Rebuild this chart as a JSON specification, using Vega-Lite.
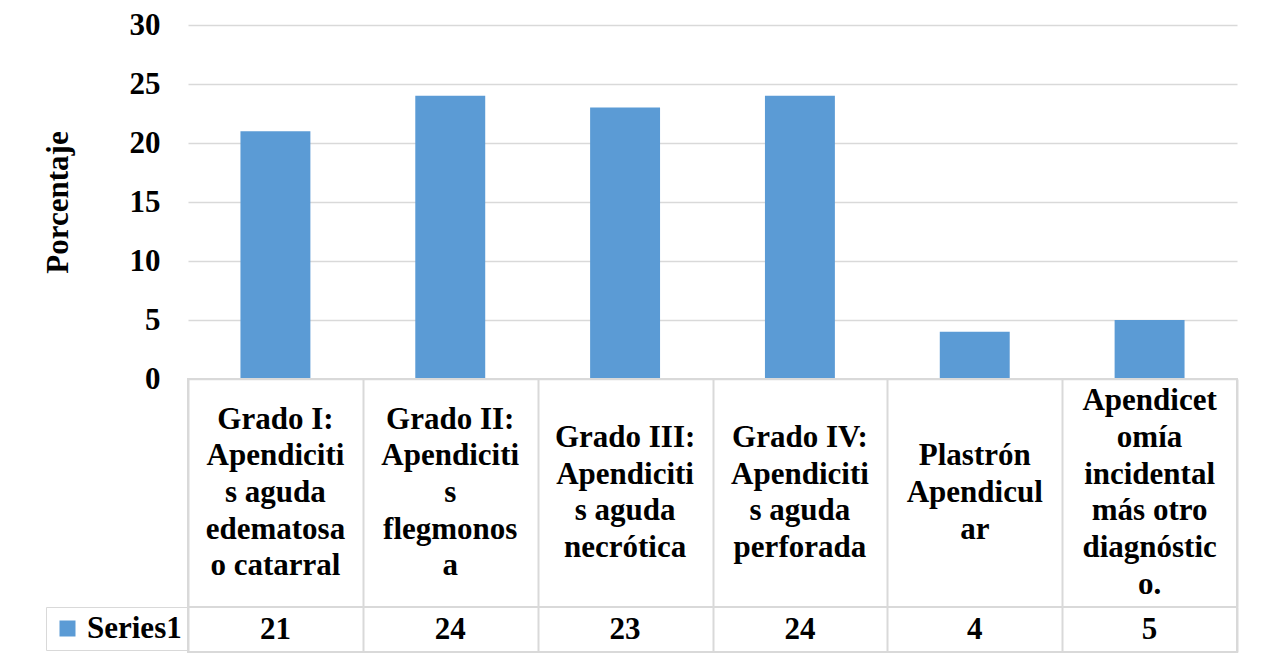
{
  "$schema": "https://vega.github.io/schema/vega-lite/v6.json",
  "padding": {"left": 42, "top": 9, "right": 20, "bottom": 5},
  "background": "white",
  "bounds": "flush",
  "datasets": {
    "tabla": [
      {"categoria": "Grado I:\nApendiciti\ns aguda\nedematosa\no catarral", "porcentaje": 21, "serie": "Series1"},
      {"categoria": "Grado II:\nApendiciti\ns\nflegmonos\na", "porcentaje": 24, "serie": "Series1"},
      {"categoria": "Grado III:\nApendiciti\ns aguda\nnecrótica", "porcentaje": 23, "serie": "Series1"},
      {"categoria": "Grado IV:\nApendiciti\ns aguda\nperforada", "porcentaje": 24, "serie": "Series1"},
      {"categoria": "Plastrón\nApendicul\nar", "porcentaje": 4, "serie": "Series1"},
      {"categoria": "Apendicet\nomía\nincidental\nmás otro\ndiagnóstic\no.", "porcentaje": 5, "serie": "Series1"}
    ]
  },
  "data": {"name": "tabla"},
  "spacing": 0,
  "resolve": {"scale": {"x": "independent", "color": "independent"}, "legend": {"color": "independent"}},
  "vconcat": [
    {
      "width": 1049,
      "height": 354,
      "view": {"stroke": null},
      "mark": {"type": "bar", "color": "#5b9bd5"},
      "encoding": {
        "x": {"field": "categoria", "type": "nominal", "sort": null, "axis": null,
              "scale": {"paddingInner": 0.6, "paddingOuter": 0.3}},
        "y": {"field": "porcentaje", "type": "quantitative",
              "scale": {"domain": [0, 30]},
              "axis": {"title": "Porcentaje", "values": [0, 5, 10, 15, 20, 25, 30],
                       "grid": true, "gridColor": "#d9d9d9", "gridWidth": 1.5,
                       "domain": false, "ticks": false, "labelPadding": 28,
                       "labelFont": "Liberation Serif", "labelFontSize": 31, "labelFontWeight": "bold", "labelColor": "#000000",
                       "titleFont": "Liberation Serif", "titleFontSize": 31, "titleFontWeight": "bold", "titleColor": "#000000",
                       "titlePadding": 55}}
      }
    },
    {
      "width": 1049,
      "height": 228,
      "view": {"stroke": "#d9d9d9", "strokeWidth": 2},
      "mark": {"type": "text", "font": "Liberation Serif", "fontSize": 31, "fontWeight": "bold", "color": "#000000",
               "lineBreak": "\n", "lineHeight": 36.7, "baseline": "middle", "align": "center",
               "dy": {"expr": "-(length(split(datum.categoria, '\\n')) - 1) * 36.7 / 2"}},
      "encoding": {
        "x": {"field": "categoria", "type": "nominal", "sort": null,
              "scale": {"paddingInner": 0, "paddingOuter": 0},
              "axis": {"labels": false, "ticks": false, "domain": false, "title": null,
                       "grid": true, "tickBand": "extent", "gridColor": "#d9d9d9", "gridWidth": 2}},
        "text": {"field": "categoria"}
      }
    },
    {
      "width": 1049,
      "height": 45,
      "view": {"stroke": "#d9d9d9", "strokeWidth": 2},
      "layer": [
        {
          "mark": {"type": "text", "font": "Liberation Serif", "fontSize": 31, "fontWeight": "bold", "color": "#000000",
                   "baseline": "middle", "align": "center"},
          "encoding": {
            "x": {"field": "categoria", "type": "nominal", "sort": null,
                  "scale": {"paddingInner": 0, "paddingOuter": 0},
                  "axis": {"labels": false, "ticks": false, "domain": false, "title": null,
                           "grid": true, "tickBand": "extent", "gridColor": "#d9d9d9", "gridWidth": 2}},
            "text": {"field": "porcentaje", "type": "quantitative"}
          }
        },
        {
          "mark": {"type": "square", "opacity": 0},
          "encoding": {
            "x": {"field": "categoria", "type": "nominal", "sort": null},
            "color": {"field": "serie", "type": "nominal", "scale": {"range": ["#5b9bd5"]},
                      "legend": {"orient": "left", "title": null, "offset": 0,
                                 "symbolType": "square", "symbolSize": 256, "symbolOpacity": 1,
                                 "symbolFillColor": "#5b9bd5", "symbolStrokeWidth": 0,
                                 "labelFont": "Liberation Serif", "labelFontSize": 31, "labelFontWeight": "bold",
                                 "labelColor": "#000000", "labelOffset": 4,
                                 "strokeColor": "#d9d9d9", "padding": 6}}
          }
        }
      ]
    }
  ]
}
